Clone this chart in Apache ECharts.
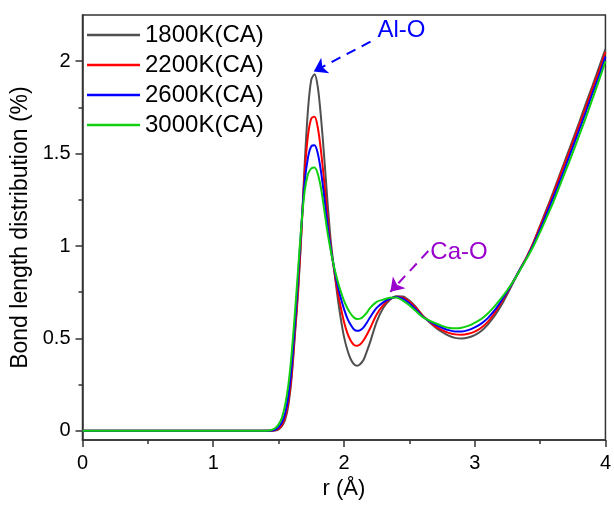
<!DOCTYPE html>
<html>
<head>
<meta charset="utf-8">
<script src="https://cdn.jsdelivr.net/npm/echarts@6/dist/echarts.min.js"></script>
<style>
html,body{margin:0;padding:0;background:#fff;}
#c{width:614px;height:505px;}
</style>
</head>
<body>
<div id="c"></div>
<script>
// r (Å)
const xs = [0,0.5,1.0,1.3,1.4,
 1.425,1.45,1.475,1.5,1.525,1.55,1.575,1.6,1.625,1.65,1.675,1.7,1.725,1.75,1.775,1.8,
 1.825,1.85,1.875,1.9,1.925,1.95,1.975,2.0,2.025,2.05,2.075,2.1,2.125,2.15,2.175,2.2,
 2.25,2.3,2.35,2.4,2.45,2.5,2.55,2.6,2.65,2.7,2.75,2.8,2.85,2.9,2.95,3.0,
 3.05,3.1,3.15,3.2,3.25,3.3,3.35,3.4,3.45,3.5,3.55,3.6,3.65,3.7,3.75,3.8,3.85,3.9,3.95,4.0];

const seriesNames = ['1800K(CA)','2200K(CA)','2600K(CA)','3000K(CA)'];

const y1800 = [0,0,0,0,0,
 0,0,0.002,0.008,0.025,0.06,0.14,0.29,0.52,0.76,1.08,1.45,1.74,1.90,1.93,1.86,
 1.69,1.47,1.23,1.02,0.87,0.73,0.61,0.51,0.44,0.39,0.362,0.352,0.362,0.385,0.43,0.48,
 0.59,0.665,0.708,0.728,0.727,0.705,0.67,0.625,0.59,0.56,0.535,0.515,0.503,0.50,0.505,0.518,
 0.54,0.575,0.62,0.675,0.74,0.81,0.875,0.94,1.02,1.11,1.20,1.29,1.385,1.48,1.575,1.67,1.77,1.865,1.965,2.065];

const y2200 = [0,0,0,0,0,
 0,0.001,0.004,0.012,0.032,0.075,0.16,0.31,0.54,0.78,1.09,1.40,1.60,1.69,1.70,1.64,
 1.51,1.34,1.15,0.99,0.87,0.76,0.67,0.59,0.53,0.49,0.466,0.46,0.468,0.49,0.52,0.555,
 0.63,0.68,0.712,0.726,0.72,0.70,0.665,0.625,0.595,0.565,0.545,0.53,0.522,0.52,0.525,0.537,
 0.558,0.59,0.635,0.69,0.75,0.815,0.88,0.945,1.02,1.105,1.19,1.28,1.375,1.465,1.56,1.655,1.75,1.85,1.945,2.05];

const y2600 = [0,0,0,0,0,
 0,0.002,0.007,0.02,0.045,0.095,0.19,0.35,0.58,0.84,1.12,1.35,1.48,1.54,1.545,1.50,
 1.40,1.26,1.11,0.98,0.88,0.79,0.72,0.66,0.61,0.575,0.55,0.541,0.545,0.56,0.585,0.615,
 0.665,0.695,0.715,0.724,0.715,0.69,0.657,0.62,0.595,0.575,0.558,0.545,0.538,0.538,0.545,0.56,
 0.58,0.61,0.65,0.70,0.755,0.815,0.878,0.94,1.01,1.09,1.175,1.26,1.35,1.44,1.535,1.63,1.725,1.825,1.92,2.025];

const y3000 = [0,0,0,0,0,
 0.002,0.006,0.016,0.035,0.07,0.14,0.25,0.42,0.64,0.88,1.12,1.30,1.39,1.42,1.425,1.39,
 1.31,1.19,1.07,0.97,0.885,0.815,0.755,0.705,0.665,0.635,0.614,0.605,0.607,0.62,0.64,0.665,
 0.698,0.71,0.72,0.722,0.705,0.68,0.648,0.617,0.598,0.582,0.568,0.558,0.555,0.558,0.568,0.585,
 0.605,0.635,0.672,0.715,0.762,0.815,0.875,0.935,1.0,1.075,1.155,1.235,1.325,1.415,1.505,1.60,1.695,1.795,1.895,2.0];

const colors = ['#505050','#ff0000','#0000ff','#10d010'];
const yMajor = [0,0.5,1,1.5,2];
const yMinor = [0.25,0.75,1.25,1.75];

// annotations: label text, text position, arrow start, arrow tip (data coords)
const annAlO = {text:'Al-O', pos:[2.44,2.166], from:[2.203,2.106], to:[1.769,1.944], color:'#0000ff'};
const annCaO = {text:'Ca-O', pos:[2.88,0.967], from:[2.645,0.973], to:[2.355,0.752], color:'#9900cc'};

const FONT = '"Liberation Sans", Arial, sans-serif';
const allY = [y1800,y2200,y2600,y3000];

const chart = echarts.init(document.getElementById('c'), null, {renderer:'canvas'});

const series = allY.map((arr,i)=>({
  name: seriesNames[i],
  type:'line',
  data: xs.map((x,j)=>[x, arr[j]]),
  symbol:'none',
  smooth:0.3,
  lineStyle:{width:2, color:colors[i]},
  itemStyle:{color:colors[i]},
  z: 2+i,
  silent:true
}));

function annSeries(a){
  return {
    type:'line', data:[], xAxisIndex:0, yAxisIndex:0, silent:true, z:10,
    markLine:{
      silent:true, animation:false,
      symbol:['none','arrow'], symbolSize:13,
      label:{show:false},
      lineStyle:{color:a.color, type:[10,7], width:2},
      itemStyle:{color:a.color},
      emphasis:{disabled:true},
      data:[[{coord:a.from},{coord:a.to}]]
    },
    markPoint:{
      silent:true, animation:false,
      symbol:'circle', symbolSize:1, itemStyle:{color:'rgba(0,0,0,0)'},
      label:{show:true, position:'inside', formatter:a.text, color:a.color, fontSize:24, fontFamily:FONT},
      data:[{coord:a.pos}]
    }
  };
}
series.push(annSeries(annAlO));
series.push(annSeries(annCaO));

chart.setOption({
  animation:false,
  backgroundColor:'#fff',
  grid:{left:82.5, right:6.5, top:15, bottom:63, show:true, borderColor:'#333', borderWidth:1.5, backgroundColor:'transparent'},
  legend:{
    data:seriesNames, orient:'vertical', left:87, top:23, padding:0,
    icon:'rect', itemWidth:53, itemHeight:2.5, itemGap:6,
    textStyle:{fontSize:24, color:'#000', fontFamily:FONT, lineHeight:24},
    selectedMode:false
  },
  xAxis:{
    type:'value', min:0, max:4, interval:1,
    name:'r (Å)', nameLocation:'middle', nameGap:36,
    nameTextStyle:{fontSize:22, color:'#000', fontFamily:FONT},
    axisLine:{show:true, onZero:false, lineStyle:{color:'#333', width:1.5}},
    axisTick:{show:true, inside:false, length:7, lineStyle:{color:'#333', width:1.5}},
    minorTick:{show:true, splitNumber:2, length:4, lineStyle:{color:'#333', width:1.5}},
    axisLabel:{fontSize:20, color:'#000', margin:13, fontFamily:FONT},
    splitLine:{show:false}
  },
  yAxis:[{
    type:'value', min:-0.05, max:2.25,
    name:'Bond length distribution (%)', nameLocation:'middle', nameGap:48,
    nameTextStyle:{fontSize:23, color:'#000', fontFamily:FONT},
    axisLine:{show:true, onZero:false, lineStyle:{color:'#333', width:1.5}},
    axisTick:{show:true, inside:false, length:7, customValues:yMajor, lineStyle:{color:'#333', width:1.5}},
    axisLabel:{fontSize:20, color:'#000', margin:12, customValues:yMajor, fontFamily:FONT},
    splitLine:{show:false}
  },{
    type:'value', min:-0.05, max:2.25, position:'left',
    axisLine:{show:false},
    axisTick:{show:true, inside:false, length:4, customValues:yMinor, lineStyle:{color:'#333', width:1.5}},
    axisLabel:{show:false},
    splitLine:{show:false}
  }],
  series: series
});
</script>
</body>
</html>
